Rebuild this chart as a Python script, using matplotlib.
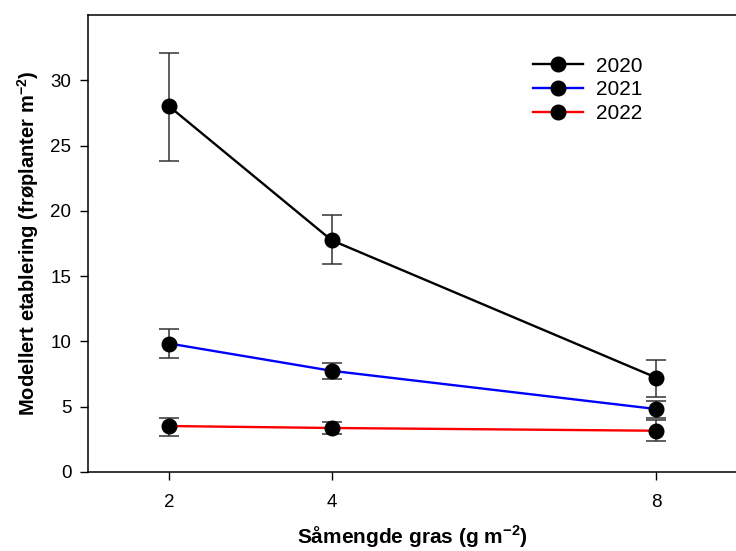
import numpy as np
import matplotlib.pyplot as plt

plt.rcParams['font.family'] = ['Liberation Sans', 'DejaVu Sans']

# seed rate (g m-2)
rate = [2, 4, 8]
years = ['2020', '2021', '2022']
colors = ['black', 'blue', 'red']

mean_2020 = [28.0, 17.75, 7.22]
upper_2020 = [32.1, 19.66, 8.57]
lower_2020 = [23.85, 15.9, 5.76]

mean_2021 = [9.84, 7.75, 4.82]
upper_2021 = [10.92, 8.32, 5.43]
lower_2021 = [8.75, 7.12, 4.11]

mean_2022 = [3.52, 3.37, 3.16]
upper_2022 = [4.13, 3.85, 3.98]
lower_2022 = [2.78, 2.88, 2.40]

means = [mean_2020, mean_2021, mean_2022]
uppers = [upper_2020, upper_2021, upper_2022]
lowers = [lower_2020, lower_2021, lower_2022]

fig = plt.figure(figsize=(7.36, 5.51), dpi=100)
ax = fig.add_axes([0.1196, 0.1434, 0.8825, 0.8294])

for yr, c, m, up, lo in zip(years, colors, means, uppers, lowers):
    m = np.array(m)
    yerr = [m - np.array(lo), np.array(up) - m]
    ax.errorbar(rate, m, yerr=yerr, fmt='none', ecolor='#333333', elinewidth=1.1,
                capsize=7, capthick=1.1, zorder=2)
    ax.plot(rate, m, '-', color=c, lw=1.7, marker='o', ms=10.5,
            mfc='black', mec='black', label=yr, zorder=3)

ax.set_xlim(1, 9)
ax.set_ylim(0, 35)
ax.set_xticks(rate)
ax.set_yticks([0, 5, 10, 15, 20, 25, 30])
ax.tick_params(direction='out', length=6, width=1, labelsize=13.5)
ax.tick_params(axis='x', pad=10)
ax.tick_params(axis='y', pad=6)
ax.spines['right'].set_visible(False)
for s in ['left', 'bottom', 'top']:
    ax.spines[s].set_linewidth(1.1)

ax.set_xlabel('Såmengde gras (g m$^{\\mathregular{-2}}$)', fontsize=15, fontweight='bold', labelpad=9)
ax.set_ylabel('Modellert etablering (frøplanter m$^{\\mathregular{-2}}$)', fontsize=14.5,
              fontweight='bold', labelpad=7)

ax.legend(loc='upper left', bbox_to_anchor=(0.7242, 0.897), bbox_transform=fig.transFigure,
          frameon=False, fontsize=15, borderpad=0, borderaxespad=0,
          handlelength=2.4, labelspacing=0.22, handletextpad=0.6)

fig.savefig('out.png', dpi=100)
